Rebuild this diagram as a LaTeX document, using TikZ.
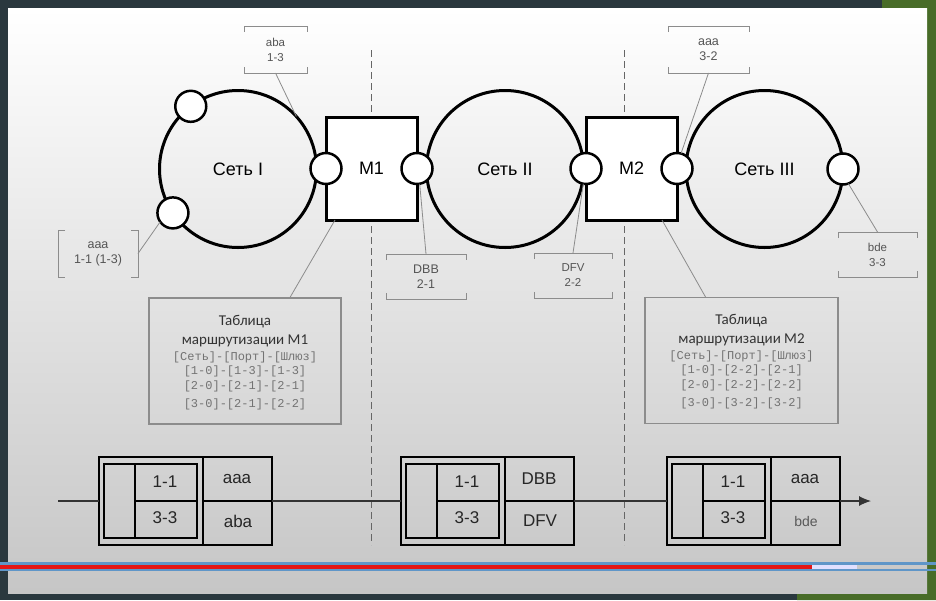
\documentclass[tikz,border=0pt]{standalone}
\usepackage{fontspec}
\setmainfont{Liberation Sans}
\newfontfamily\calfont{Carlito}
\newfontfamily\cournew{Liberation Mono}
\usetikzlibrary{arrows.meta,calc}
\definecolor{framedark}{RGB}{42,56,62}
\definecolor{framegreen}{RGB}{72,108,40}
\definecolor{slidegray}{RGB}{198,198,198}
\definecolor{lblgray}{RGB}{85,85,85}
\definecolor{barblue}{RGB}{95,150,200}
\definecolor{barred}{RGB}{228,22,22}
% brackets round the small labels
\newcommand\hbrak[1]{%
  \draw[lbl line] ([yshift=-6pt]#1.north west) -- (#1.north west) -- (#1.north east) -- ([yshift=-6pt]#1.north east)
    ([yshift=6pt]#1.south west) -- (#1.south west) -- (#1.south east) -- ([yshift=6pt]#1.south east);}
\newcommand\vbrak[1]{%
  \draw[lbl line] ([xshift=7pt]#1.north west) -- (#1.north west) -- (#1.south west) -- ([xshift=7pt]#1.south west)
    ([xshift=-7pt]#1.north east) -- (#1.north east) -- (#1.south east) -- ([xshift=-7pt]#1.south east);}

\begin{document}
\begin{tikzpicture}[x=1pt,y=-1pt,
	net/.style={circle,draw,line width=3pt,minimum size=157pt,inner sep=0pt,outer sep=0pt,font=\fontsize{18}{20}\selectfont},
	port/.style={circle,draw,fill=white,line width=2.5pt,minimum size=31pt,inner sep=0pt,outer sep=0pt},
	router/.style={rectangle,draw,fill=white,line width=3pt,minimum width=91pt,minimum height=103pt,outer sep=0pt,font=\fontsize{18}{20}\selectfont},
	lbl/.style={inner sep=0pt,outer sep=0pt,align=center,text=lblgray,font=\fontsize{11.5}{15}\selectfont},
	lbl line/.style={draw=black!45,line width=0.8pt},
	tab/.style={draw=black!45,line width=1.1pt,minimum width=192pt,minimum height=126pt},
	tabhead/.style={align=center,text=black!80,font=\calfont\fontsize{15}{19}\selectfont},
	tabrows/.style={align=center,text=black!55,font=\cournew\fontsize{12}{14.5}\selectfont},
	divider/.style={black!60,line width=1pt,dash pattern=on 7pt off 4pt},
	pkt/.style={draw,line width=2.2pt,minimum width=173pt,minimum height=88pt,outer sep=0pt},
	pline/.style={line width=2.2pt},
	cell/.style={text=black!85,font=\fontsize{17}{20}\selectfont},
	cellsm/.style={text=black!65,font=\fontsize{14}{16}\selectfont},
	flow/.style={black!80,line width=1.1pt}]
	% screen round the slide
	\fill[framedark] (0,0) rectangle (936,600);
	\fill[framegreen] (882,0) -- (936,0) -- (936,600) -- (797,600) -- (797,593) -- (927,593) -- (927,8) -- (882,8) -- cycle;
	\shade[top color=white,middle color={rgb,255:red,242;green,242;blue,242},bottom color=slidegray] (8,8) rectangle (927,593);
	%%%%%
	\draw[divider] (371,50) -- (371,545);
	\draw[divider] (624,50) -- (624,545);
	%%%%%
	\node[net] (n1) at (238,169) {Сеть I};
	\node[net] (n2) at (505,169) {Сеть II};
	\node[net] (n3) at (764.5,169) {Сеть III};
	\node[router] (m1) at (371.5,168.5) {M1};
	\node[router] (m2) at (631.5,168.5) {M2};
	\node[port] (pt) at (n1.127) {};
	\node[port] (pb) at (n1.214) {};
	\node[port] (p1) at (m1.west) {};
	\node[port] (p2) at (m1.east) {};
	\node[port] (p3) at (m2.west) {};
	\node[port] (p4) at (m2.east) {};
	\node[port] (p5) at (n3.east) {};
	%%%%%
	\node[lbl,minimum width=63pt,minimum height=47pt] (l13) at (275.5,49.5) {aba\\1-3};
	\node[lbl,minimum width=80pt,minimum height=47pt,font=\fontsize{12.5}{15}\selectfont] (l11) at (98,253.5) {aaa\\1-1 (1-3)};
	\node[lbl,minimum width=80pt,minimum height=45pt,font=\fontsize{12.5}{15}\selectfont] (l21) at (426,276.5) {DBB\\2-1};
	\node[lbl,minimum width=78pt,minimum height=45pt] (l22) at (573,275.5) {DFV\\2-2};
	\node[lbl,minimum width=81pt,minimum height=47pt,font=\fontsize{12.5}{15}\selectfont] (l32) at (708.5,49.5) {aaa\\3-2};
	\node[lbl,minimum width=79pt,minimum height=45pt] (l33) at (877.5,254.5) {bde\\3-3};
	\hbrak{l13} \vbrak{l11} \hbrak{l21} \hbrak{l22} \hbrak{l32} \hbrak{l33}
	\draw[lbl line] (l13.south) -- (n1.42);
	\draw[lbl line] (l11.east) -- (pb.215);
	\draw[lbl line] (l21.north) -- (p2.-80);
	\draw[lbl line] (l22.north) -- (p3.-100);
	\draw[lbl line] (l32.south) -- (p4.75);
	\draw[lbl line] (l33.north) -- (p5.-70);
	%%%%% routing tables
	\node[tab] (t1) at (245,361) {};
	\node[tabhead] (t1h) at (245,331) {Таблица\\маршрутизации М1};
	\node[tabrows] (t1r) at (245,381) {[Сеть]-[Порт]-[Шлюз]\\{}[1-0]-[1-3]-[1-3]\\{}[2-0]-[2-1]-[2-1]\\[4pt]{}[3-0]-[2-1]-[2-2]};
	\node[tab,minimum width=193pt] (t2) at (741.5,360.5) {};
	\node[tabhead] (t2h) at (741.5,330) {Таблица\\маршрутизации М2};
	\node[tabrows] (t2r) at (741.5,380) {[Сеть]-[Порт]-[Шлюз]\\{}[1-0]-[2-2]-[2-1]\\{}[2-0]-[2-2]-[2-2]\\[4pt]{}[3-0]-[3-2]-[3-2]};
	\draw[lbl line] ([xshift=45pt]t1.north) -- ([xshift=9pt]m1.south west);
	\draw[lbl line] ([xshift=-36pt]t2.north) -- ([xshift=-15pt]m2.south east);
	%%%%% packets
	\foreach \n/\x/\ca/\cb/\cc/\cd/\st in {1/99/1-1/3-3/aaa/aba/cell, 2/401/1-1/3-3/DBB/DFV/cell, 3/667/1-1/3-3/aaa/bde/cellsm} {
		\node[pkt] (pk\n) at (\x+86.5,501) {};
		\draw[pline] (\x+5,464) rectangle (\x+98,538);
		\draw[pline] (\x+36,464) -- (\x+36,538) (\x+36,501) -- (\x+98,501);
		\draw[pline] (\x+104,457) -- (\x+104,545) (\x+104,501) -- (\x+173,501);
		\node[cell] (pk\n a) at (\x+66,482) {\ca};
		\node[cell] (pk\n b) at (\x+66,518) {\cb};
		\node[cell] (pk\n c) at (\x+138,479) {\cc};
		\node[\st] (pk\n d) at (\x+139,521) {\cd};
	}
	\coordinate (in) at (58,501);
	\coordinate (out) at (871,501);
	\draw[flow] (in) -- (pk1.west) (pk1.east) -- (pk2.west) (pk2.east) -- (pk3.west);
	\draw[flow,-{Latex[length=12pt,width=10pt]}] (pk3.east) -- (out);
	%%%%% player bar
	\fill[barblue] (0,562) rectangle (936,564.5);
	\fill[barblue] (0,569) rectangle (936,571);
	\fill[barred] (0,564.5) rectangle (812,569);
	\fill[white!88!blue] (812,564.5) rectangle (857,569);
\end{tikzpicture}
\end{document}
